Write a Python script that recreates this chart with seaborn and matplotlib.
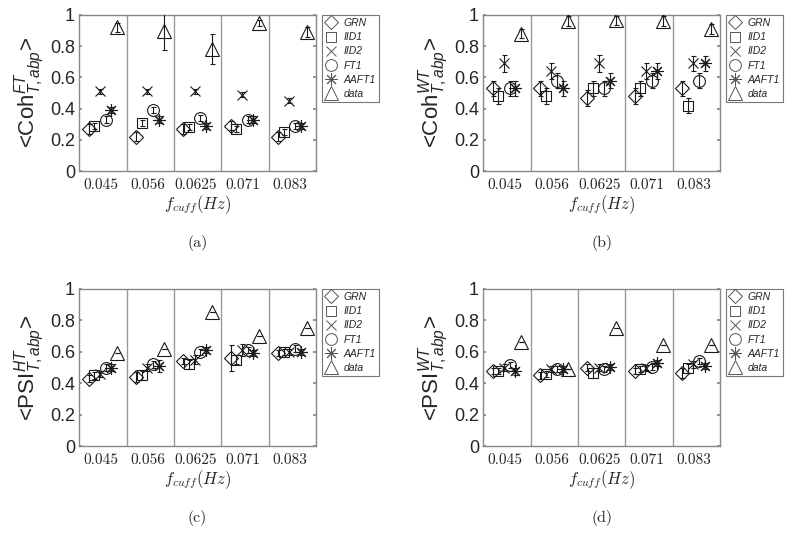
import numpy as np
import matplotlib
matplotlib.use("Agg")
import matplotlib.pyplot as plt
from matplotlib.lines import Line2D
import seaborn as sns

# --- data ---
freqs = ["0.045", "0.056", "0.0625", "0.071", "0.083"]
series = ["GRN", "IID1", "IID2", "FT1", "AAFT1", "data"]

# (a) <Coh FT>
coh_ft = {
    "GRN":   [0.27, 0.22, 0.27, 0.29, 0.22],
    "IID1":  [0.29, 0.31, 0.28, 0.27, 0.25],
    "IID2":  [0.51, 0.51, 0.51, 0.49, 0.45],
    "FT1":   [0.33, 0.39, 0.34, 0.33, 0.29],
    "AAFT1": [0.39, 0.33, 0.29, 0.33, 0.29],
    "data":  [0.92, 0.90, 0.78, 0.95, 0.89],
}
coh_ft_err = {
    "GRN":   [0.03, 0.03, 0.03, 0.03, 0.03],
    "IID1":  [0.02, 0.02, 0.02, 0.02, 0.02],
    "IID2":  [0.015, 0.015, 0.015, 0.015, 0.015],
    "FT1":   [0.02, 0.02, 0.02, 0.02, 0.02],
    "AAFT1": [0.02, 0.02, 0.02, 0.02, 0.02],
    "data":  [0.03, 0.125, 0.095, 0.02, 0.03],
}

# (b) <Coh WT>
coh_wt = {
    "GRN":   [0.53, 0.53, 0.47, 0.48, 0.53],
    "IID1":  [0.48, 0.48, 0.53, 0.53, 0.42],
    "IID2":  [0.69, 0.64, 0.69, 0.64, 0.69],
    "FT1":   [0.53, 0.58, 0.53, 0.58, 0.58],
    "AAFT1": [0.53, 0.53, 0.58, 0.64, 0.69],
    "data":  [0.88, 0.96, 0.965, 0.96, 0.91],
}
coh_wt_err = {
    "GRN":   [0.05, 0.05, 0.05, 0.05, 0.05],
    "IID1":  [0.05, 0.05, 0.05, 0.05, 0.05],
    "IID2":  [0.055, 0.05, 0.055, 0.05, 0.05],
    "FT1":   [0.05, 0.05, 0.05, 0.05, 0.05],
    "AAFT1": [0.05, 0.05, 0.05, 0.05, 0.05],
    "data":  [0.03, 0.03, 0.03, 0.03, 0.03],
}

# (c) <PSI HT>
psi_ht = {
    "GRN":   [0.43, 0.44, 0.54, 0.56, 0.59],
    "IID1":  [0.45, 0.45, 0.52, 0.55, 0.60],
    "IID2":  [0.46, 0.50, 0.55, 0.61, 0.60],
    "FT1":   [0.50, 0.52, 0.60, 0.61, 0.62],
    "AAFT1": [0.50, 0.51, 0.61, 0.59, 0.60],
    "data":  [0.59, 0.62, 0.85, 0.70, 0.75],
}
psi_ht_err = {
    "GRN":   [0.02, 0.03, 0.02, 0.08, 0.02],
    "IID1":  [0.02, 0.03, 0.03, 0.03, 0.02],
    "IID2":  [0.02, 0.02, 0.03, 0.04, 0.02],
    "FT1":   [0.02, 0.02, 0.02, 0.02, 0.02],
    "AAFT1": [0.02, 0.04, 0.02, 0.02, 0.02],
    "data":  [0.0, 0.0, 0.0, 0.0, 0.0],
}

# (d) <PSI WT>
psi_wt = {
    "GRN":   [0.48, 0.45, 0.50, 0.48, 0.465],
    "IID1":  [0.48, 0.46, 0.465, 0.49, 0.495],
    "IID2":  [0.50, 0.49, 0.50, 0.495, 0.52],
    "FT1":   [0.515, 0.49, 0.49, 0.505, 0.54],
    "AAFT1": [0.475, 0.49, 0.505, 0.53, 0.51],
    "data":  [0.66, 0.49, 0.75, 0.64, 0.64],
}
psi_wt_err = {
    "GRN":   [0.02, 0.02, 0.02, 0.02, 0.03],
    "IID1":  [0.02, 0.02, 0.03, 0.02, 0.03],
    "IID2":  [0.02, 0.02, 0.02, 0.02, 0.02],
    "FT1":   [0.02, 0.02, 0.02, 0.02, 0.02],
    "AAFT1": [0.02, 0.02, 0.02, 0.02, 0.02],
    "data":  [0.0, 0.0, 0.0, 0.0, 0.0],
}

ylabels = [r"<Coh$^{FT}_{T,abp}$>", r"<Coh$^{WT}_{T,abp}$>",
           r"<PSI$^{HT}_{T,abp}$>", r"<PSI$^{WT}_{T,abp}$>"]
captions = ["(a)", "(b)", "(c)", "(d)"]

# --- style ---
sns.set_theme(style="white")
plt.rcParams["font.family"] = ["Liberation Sans", "DejaVu Sans"]
plt.rcParams["mathtext.fontset"] = "custom"
plt.rcParams["mathtext.rm"] = "Liberation Sans"
plt.rcParams["mathtext.it"] = "Liberation Sans:italic"

markers = {"GRN": "D", "IID1": "s", "IID2": "x", "FT1": "o",
           "AAFT1": (8, 2, 0), "data": "^"}
msizes = {"GRN": 7, "IID1": 7.5, "IID2": 6.5, "FT1": 8.5,
          "AAFT1": 9, "data": 10}
offsets = [0.2, 0.32, 0.44, 0.56, 0.68, 0.80]
grey = "#888888"

fig = plt.figure(figsize=(8, 5.33), dpi=100)
rects = [(0.099, 0.679, 0.296, 0.293), (0.604, 0.679, 0.296, 0.293),
         (0.099, 0.163, 0.296, 0.295), (0.604, 0.163, 0.296, 0.295)]
panels = [(coh_ft, coh_ft_err), (coh_wt, coh_wt_err),
          (psi_ht, psi_ht_err), (psi_wt, psi_wt_err)]

groups = np.arange(len(freqs))
for k, (rect, (vals, errs)) in enumerate(zip(rects, panels)):
    ax = fig.add_axes(rect)
    for i, s in enumerate(series):
        x = groups + offsets[i]
        ax.errorbar(x, vals[s], yerr=errs[s], fmt="none", ecolor="k",
                    elinewidth=0.8, capsize=1.8, capthick=0.8, zorder=3)
        ax.plot(x, vals[s], ls="none", marker=markers[s], ms=msizes[s],
                mfc="none", mec="k", mew=0.8, zorder=4)
    for b in range(1, len(freqs)):
        ax.axvline(b, color="#999999", lw=1.0, zorder=1)
    ax.set_xlim(0, len(freqs))
    ax.set_ylim(0, 1)
    ax.set_xticks(groups + 0.45)
    ax.set_xticklabels(freqs, family="cmr10", fontsize=11)
    ax.set_yticks([0, 0.2, 0.4, 0.6, 0.8, 1])
    ax.set_yticklabels(["0", "0.2", "0.4", "0.6", "0.8", "1"], fontsize=13)
    ax.tick_params(axis="x", length=0, pad=5)
    ax.tick_params(axis="y", direction="in", length=2.5, color=grey,
                   right=True, left=True, pad=3)
    for sp in ax.spines.values():
        sp.set_color(grey)
        sp.set_linewidth(1.0)
    ax.set_xlabel(r"$f_{cuff}(Hz)$", fontsize=12, math_fontfamily="cm",
                  labelpad=1)
    ax.set_ylabel(ylabels[k], fontsize=16, labelpad=2)

    handles = [Line2D([], [], ls="none", marker=markers[s], ms=msizes[s],
                      mfc="none", mec="#555555", mew=0.7) for s in series]
    leg = ax.legend(handles, series, loc="upper left",
                    bbox_to_anchor=(1.025, 1.0), frameon=True, fancybox=False,
                    prop={"style": "italic", "size": 7.5},
                    handlelength=1.2, handletextpad=0.6, labelspacing=0.4,
                    borderpad=0.3, borderaxespad=0)
    leg.get_frame().set_edgecolor("#555555")
    leg.get_frame().set_linewidth(0.8)

    cx = rect[0] + rect[2] / 2
    cy = 0.544 if k < 2 else 0.028
    fig.text(cx, cy, captions[k], ha="center", va="center",
             family="cmr10", fontsize=11.5)

fig.savefig("out.png", dpi=100)
